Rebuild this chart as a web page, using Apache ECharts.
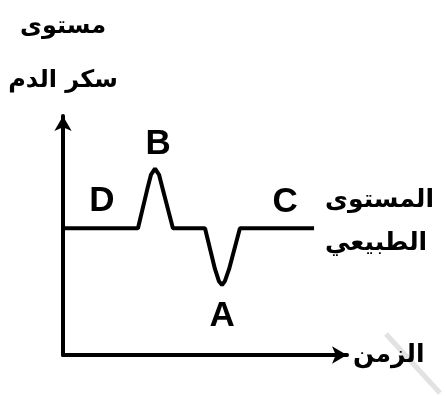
<!DOCTYPE html>
<html>
<head>
<meta charset="utf-8">
<script src="https://cdn.jsdelivr.net/npm/echarts@6/dist/echarts.min.js"></script>
<style>
html,body{margin:0;padding:0;background:#fff;}
#chart{width:446px;height:396px;}
</style>
</head>
<body>
<div id="chart"></div>
<script>
// time (0-100) and blood sugar level (0-100)
var timeValues  = [0, 26.4, 29.6, 31.0, 32.4, 33.8, 35.2, 38.7, 50.0, 53.5, 54.9, 56.0, 57.0, 58.5, 62.3, 88.4];
var sugarValues = [53, 53, 69.0, 75.5, 78.0, 75.5, 69.0, 53, 53, 36, 30.9, 29.3, 30.9, 36, 53, 53];

var pointLabels = ['D', 'B', 'C', 'A'];
var labelTimes  = [13.7, 33.5, 78.2, 56.0];
var labelLevels = [64.5, 88.3, 64.0, 16.1];

var yAxisTitle = 'مستوى\nسكر الدم';
var xAxisTitle = 'الزمن';
var normalLevelText = 'المستوى\nالطبيعي';

var arabicFont = '"DejaVu Sans", sans-serif';

var chart = echarts.init(document.getElementById('chart'), null, {renderer: 'canvas'});

var lineData = timeValues.map(function (t, i) { return [t, sugarValues[i]]; });
var labelData = pointLabels.map(function (n, i) { return {name: n, value: [labelTimes[i], labelLevels[i]]}; });

chart.setOption({
  backgroundColor: '#ffffff',
  animation: false,
  grid: {left: 63, right: 99, top: 106, bottom: 41},
  xAxis: {
    type: 'value', min: 0, max: 100,
    axisLine: {show: true, lineStyle: {color: '#000', width: 4}, symbol: ['none', 'arrow'], symbolSize: [13, 15]},
    axisTick: {show: false}, axisLabel: {show: false}, splitLine: {show: false},
    name: xAxisTitle, nameLocation: 'end', nameGap: 6,
    nameTextStyle: {color: '#000', fontFamily: arabicFont, fontWeight: 'bold', fontSize: 25, verticalAlign: 'middle', padding: [0, 0, 4, 0]}
  },
  yAxis: {
    type: 'value', min: 0, max: 100,
    axisLine: {show: true, lineStyle: {color: '#000', width: 4}, symbol: ['none', 'arrow'], symbolSize: [13, 15]},
    axisTick: {show: false}, axisLabel: {show: false}, splitLine: {show: false},
    name: yAxisTitle, nameLocation: 'end', nameGap: 8,
    nameTextStyle: {color: '#000', fontFamily: arabicFont, fontWeight: 'bold', fontSize: 24, lineHeight: 54, align: 'center'}
  },
  graphic: [{
    type: 'line', silent: true,
    shape: {x1: 386, y1: 334, x2: 440, y2: 393},
    style: {stroke: '#e2e2e2', lineWidth: 5}
  }],
  series: [{
    type: 'line',
    data: lineData,
    showSymbol: false,
    lineStyle: {color: '#000', width: 4},
    endLabel: {
      show: true, formatter: normalLevelText, distance: 11, offset: [0, -6],
      color: '#000', fontFamily: arabicFont, fontWeight: 'bold', fontSize: 25, lineHeight: 43, align: 'left'
    }
  }, {
    type: 'scatter',
    data: labelData,
    symbolSize: 0,
    itemStyle: {color: '#000', opacity: 1},
    label: {
      show: true, position: [0, 0], align: 'center', verticalAlign: 'middle', formatter: '{b}', opacity: 1,
      color: '#000', textBorderWidth: 0, fontFamily: '"Liberation Sans", Arial, sans-serif', fontWeight: 'bold', fontSize: 35
    }
  }]
});
</script>
</body>
</html>
